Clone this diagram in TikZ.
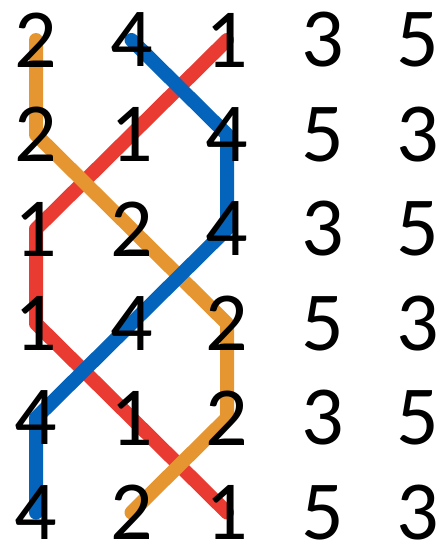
\documentclass[tikz,border=0pt]{standalone}
\usepackage{fontspec}
\setmainfont{Carlito}
\usetikzlibrary{backgrounds}
\definecolor{strandred}{RGB}{234,59,51}
\definecolor{strandorange}{RGB}{230,150,48}
\definecolor{strandblue}{RGB}{4,99,186}

\begin{document}
\begin{tikzpicture}[x=1pt,y=-1pt,
    digit/.style={inner sep=0pt,font=\fontsize{84}{84}\selectfont},
    strand/.style={line width=14pt,line cap=round,line join=round}]
    \useasboundingbox (0,0) rectangle (440,547);

    \foreach \r/\row in {1/{2,4,1,3,5},2/{2,1,4,5,3},3/{1,2,4,3,5},
                         4/{1,4,2,5,3},5/{4,1,2,3,5},6/{4,2,1,5,3}}
        \foreach \d [count=\c] in \row
            \node[digit] (n\r\c) at ({36+95.5*(\c-1)},{40+94.5*(\r-1)}) {\d};

    \begin{scope}[on background layer]
        \draw[strand,strandred] (n13.center) -- (n22.center) -- (n31.center)
            -- (n41.center) -- (n52.center) -- (n63.center);
        \draw[strand,strandorange] (n11.center) -- (n21.center) -- (n32.center)
            -- (n43.center) -- (n53.center) -- (n62.center);
        \draw[strand,strandblue] (n12.center) -- (n23.center) -- (n33.center)
            -- (n42.center) -- (n51.center) -- (n61.center);
    \end{scope}
\end{tikzpicture}
\end{document}
